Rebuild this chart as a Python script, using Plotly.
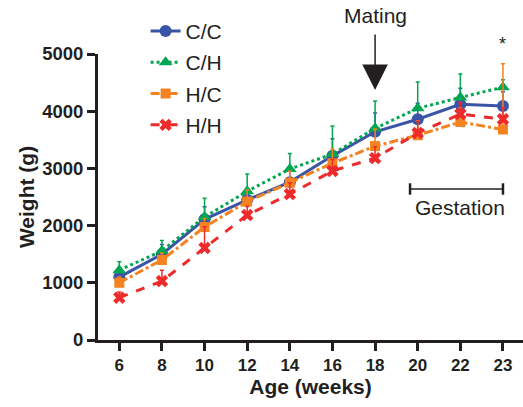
import plotly.graph_objects as go

ages = ["6", "8", "10", "12", "14", "16", "18", "20", "22", "23"]
cc = [1100, 1500, 2110, 2450, 2760, 3220, 3640, 3860, 4120, 4090]
ch = [1220, 1560, 2150, 2600, 2990, 3250, 3700, 4050, 4240, 4420]
hc = [1000, 1400, 1975, 2420, 2750, 3090, 3390, 3580, 3810, 3680]
hh = [740, 1030, 1610, 2185, 2550, 2955, 3180, 3620, 3950, 3860]
cc_err = [130, 170, 220, 200, 230, 300, 330, 280, 280, 250]
ch_err = [150, 180, 330, 300, 270, 490, 480, 460, 410, 130]
hc_err = [100, 120, 150, 200, 200, 250, 300, 250, 250, 1150]
hh_err = [100, 190, 370, 150, 200, 200, 200, 200, 200, 200]

series = [
    ("C/C", cc, cc_err, "#3a55a5", "solid", "circle", 12),
    ("C/H", ch, ch_err, "#00a651", "dot", "triangle-up", 12),
    ("H/C", hc, hc_err, "#f58220", "dashdot", "square", 10),
    ("H/H", hh, hh_err, "#ee2a2a", "dash", "x", 11),
]

fig = go.Figure()
for name, vals, err, col, dash, sym, sz in series:
    fig.add_trace(go.Scatter(
        x=ages, y=vals, name=name, mode="lines+markers", legendgroup=name,
        line=dict(color=col, width=3, dash=dash),
        marker=dict(symbol=sym, size=sz, color=col, line=dict(width=0)),
        error_y=dict(type="data", array=err, arrayminus=[0] * len(err), symmetric=False,
                     color=col, thickness=1.5, width=2),
        cliponaxis=False,
    ))

font_family = "Liberation Sans, Arial, sans-serif"

fig.update_layout(
    width=523, height=407,
    margin=dict(l=98, r=0, t=54, b=67),
    paper_bgcolor="white", plot_bgcolor="white",
    font=dict(family=font_family, color="#231f20"),
    showlegend=True,
    legend=dict(x=0.112, y=1.151, xanchor="left", yanchor="top",
                font=dict(size=21, family=font_family), bgcolor="rgba(0,0,0,0)",
                tracegroupgap=1, itemwidth=30),
    xaxis=dict(type="category", range=[-0.5, 9.47], showline=True, linecolor="#231f20",
               linewidth=3, ticks="outside", ticklen=8, tickwidth=3, tickcolor="#231f20",
               tickfont=dict(size=17, family=font_family, weight="bold"),
               title=dict(text="<b>Age (weeks)</b>", font=dict(size=21), standoff=4),
               showgrid=False, zeroline=False),
    yaxis=dict(range=[0, 5000], showline=True, linecolor="#231f20", linewidth=3,
               ticks="outside", ticklen=8, tickwidth=3, tickcolor="#231f20",
               tickvals=[0, 1000, 2000, 3000, 4000, 5000],
               tickfont=dict(size=18.5, family=font_family, weight="bold"),
               title=dict(text="<b>Weight (g)</b>", font=dict(size=21), standoff=2),
               showgrid=False, zeroline=False),
)

# Mating arrow (category index 6 = week 18)
fig.add_annotation(x=6, y=4370, xref="x", yref="y", ax=0, ay=-57,
                   showarrow=True, arrowhead=2, arrowsize=3.4, arrowwidth=1.5,
                   arrowcolor="#231f20", text="", standoff=0)
fig.add_annotation(x=6, y=1.0, xref="x", yref="paper", yshift=39, text="Mating",
                   showarrow=False, font=dict(size=21, family=font_family), yanchor="middle")
# significance star (index 9 = week 23)
fig.add_annotation(x=9, y=1.0, xref="x", yref="paper", yshift=22, text="*",
                   showarrow=False, font=dict(size=18, family=font_family))
# Gestation bar
fig.add_shape(type="line", x0=6.82, x1=9, y0=2640, y1=2640, xref="x", yref="y",
              line=dict(color="#231f20", width=1.5))
for xv in (6.82, 9):
    fig.add_shape(type="line", x0=xv, x1=xv, y0=2540, y1=2740, xref="x", yref="y",
                  line=dict(color="#231f20", width=2.5))
fig.add_annotation(x=8.0, y=2310, xref="x", yref="y", text="Gestation", showarrow=False,
                   font=dict(size=21, family=font_family))

fig.write_html("out.html", config={"displayModeBar": False},
               post_script="document.body.style.margin='0';")
